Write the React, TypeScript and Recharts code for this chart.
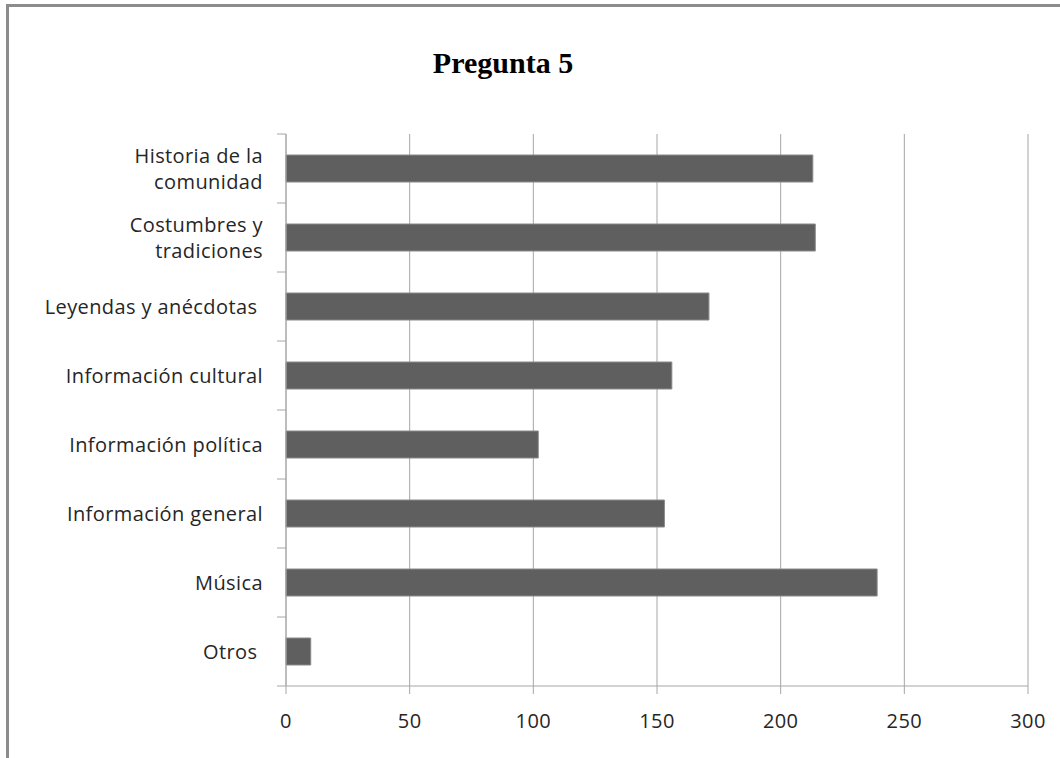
import { Bar, BarChart, CartesianGrid, XAxis, YAxis } from "recharts";

// Pregunta 5 - horizontal bar chart
const categories = [
  "Historia de la\ncomunidad",
  "Costumbres y\ntradiciones",
  "Leyendas y anécdotas ",
  "Información cultural",
  "Información política",
  "Información general",
  "Música",
  "Otros ",
];
const values = [213, 214, 171, 156, 102, 153, 239, 10];
const xTicks = [0, 50, 100, 150, 200, 250, 300];

const data = categories.map((name, i) => ({ name, value: values[i] }));

const W = 1060;
const H = 758;
const PLOT_TOP = 134;
const PLOT_BOTTOM = 686;
const AXIS_X = 286;
const BAND = (PLOT_BOTTOM - PLOT_TOP) / categories.length;
const GRID = "#a6a6a6";
const LABEL_FONT = "'Open Sans', sans-serif";

function CategoryTick(props: any) {
  const { y, payload, index } = props;
  const lines = String(payload.value).split("\n");
  const lineH = 26;
  const startY = y - ((lines.length - 1) * lineH) / 2;
  return (
    <g>
      <line x1={AXIS_X - 9} x2={AXIS_X} y1={y - BAND / 2} y2={y - BAND / 2} stroke={GRID} />
      {index === categories.length - 1 && (
        <line x1={AXIS_X - 9} x2={AXIS_X} y1={y + BAND / 2} y2={y + BAND / 2} stroke={GRID} />
      )}
      <text
        x={AXIS_X - 23}
        y={startY}
        textAnchor="end"
        fontSize={20}
        letterSpacing={0.4}
        fontFamily={LABEL_FONT}
        fill="#262626"
        style={{ whiteSpace: "pre" }}
      >
        {lines.map((l, i) => (
          <tspan key={i} x={AXIS_X - 23} y={startY + i * lineH} dy="0.35em">
            {l}
          </tspan>
        ))}
      </text>
    </g>
  );
}

export default function App() {
  return (
    <div
      style={{
        position: "fixed",
        top: 0,
        left: 0,
        width: W,
        height: H,
        background: "#fff",
        overflow: "hidden",
      }}
    >
      <div
        style={{
          position: "absolute",
          left: 6,
          top: 4,
          width: W + 20,
          height: H + 20,
          border: "3px solid #8c8c8c",
          boxSizing: "border-box",
        }}
      />
      <div
        style={{
          position: "absolute",
          left: 0,
          top: 46,
          width: 1006,
          textAlign: "center",
          fontFamily: "'Liberation Serif', serif",
          fontWeight: "bold",
          fontSize: 30,
          color: "#000",
        }}
      >
        Pregunta 5
      </div>
      <div style={{ position: "absolute", left: 0, top: 0 }}>
        <BarChart
          width={W}
          height={H}
          data={data}
          layout="vertical"
          margin={{ top: PLOT_TOP, right: W - 1028, left: 0, bottom: 0 }}
          barCategoryGap={0}
        >
          <CartesianGrid vertical horizontal={false} stroke={GRID} />
          <XAxis
            type="number"
            domain={[0, 300]}
            ticks={xTicks}
            interval={0}
            height={H - PLOT_BOTTOM}
            axisLine={{ stroke: GRID }}
            tickLine={{ stroke: GRID }}
            tickSize={8}
            tickMargin={20}
            tick={{ fontSize: 20, letterSpacing: 0.4, fontFamily: LABEL_FONT, fill: "#262626" }}
          />
          <YAxis
            type="category"
            dataKey="name"
            width={AXIS_X}
            interval={0}
            axisLine={{ stroke: GRID }}
            tickLine={false}
            tick={<CategoryTick />}
          />
          <Bar
            dataKey="value"
            fill="#5f5f5f"
            stroke="#8a8a8a"
            strokeWidth={1}
            barSize={27}
            isAnimationActive={false}
          />
        </BarChart>
      </div>
    </div>
  );
}
